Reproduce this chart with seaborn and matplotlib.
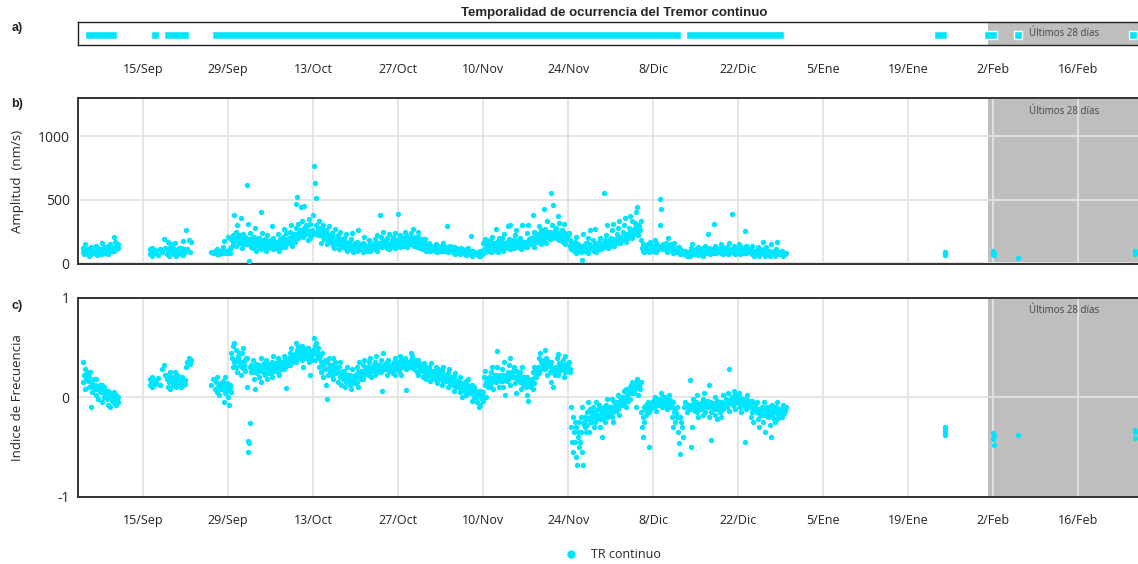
import numpy as np
import pandas as pd
import matplotlib
matplotlib.use("Agg")
import matplotlib.pyplot as plt
import matplotlib.dates as mdates
import matplotlib.transforms as mtransforms
from matplotlib.lines import Line2D
import seaborn as sns

# Episodes of continuous tremor (panel a)
episode_start = ["2023-09-05 10:00", "2023-09-16 07:00", "2023-09-18 12:00", "2023-09-26 10:00",
                 "2023-12-13 10:00", "2024-01-23 07:00", "2024-01-31 12:00", "2024-02-05 12:00",
                 "2024-02-24 10:00"]
episode_end = ["2023-09-10 17:00", "2023-09-17 14:00", "2023-09-22 14:00", "2023-12-12 14:00",
               "2023-12-29 14:00", "2024-01-25 10:00", "2024-02-02 17:00", "2024-02-06 19:00",
               "2024-02-25 17:00"]

# Daily readings (first day = 5 Sep 2023), amplitude in nm/s
first_day = "2023-09-05"
amp_sep = [
    [90, 120, 70, 150, 100, 80, 100, 110, 95], [110, 60, 95, 130, 75, 105, 90, 100, 85],
    [85, 140, 100, 65, 120, 90, 95, 105, 80], [70, 110, 160, 95, 80, 125, 100, 90, 110],
    [100, 75, 135, 90, 150, 115, 110, 95, 120], [120, 205, 95, 170, 140, 110, 130, 150, 120],
    [], [], [], [], [],
    [70, 110, 90, 120, 60, 100, 85, 95, 105], [95, 65, 115], [90, 190, 120, 70],
    [170, 100, 60, 130, 80, 150, 110, 90, 120], [75, 110, 160, 90, 60, 100, 90, 80, 120],
    [95, 70, 120, 85, 175, 65, 100, 90, 110], [260, 110, 180, 90, 170],
    [], [], [],
    [90, 80, 100], [95, 75, 110, 85, 100, 70, 85, 95, 90, 80],
    [80, 130, 90, 175, 100, 85, 95, 90, 100, 85],
    [210, 95, 110, 80, 190, 130, 180, 220, 150, 200],
    [380, 180, 250, 140, 300, 210, 190, 160, 220, 170],
]
amp_oct = [
    [160, 360, 200, 120, 230, 170, 180, 150, 210, 190], [620, 150, 310, 190, 20, 240, 170, 130, 160, 200],
    [180, 120, 210, 280, 150, 100, 160, 190, 140, 170], [200, 130, 170, 400, 110, 240, 150, 180, 160, 130],
    [140, 190, 100, 160, 220, 120, 150, 170, 130, 180], [150, 290, 180, 110, 200, 130, 160, 140, 170, 120],
    [120, 170, 230, 140, 100, 190, 150, 180, 130, 160], [210, 150, 270, 130, 180, 240, 170, 190, 160, 200],
    [190, 250, 160, 300, 220, 140, 200, 180, 230, 170], [230, 470, 280, 520, 200, 310, 250, 220, 260, 240],
    [440, 260, 330, 210, 450, 280, 240, 300, 230, 260], [290, 180, 350, 240, 310, 200, 220, 260, 250, 230],
    [380, 765, 240, 630, 300, 515, 250, 280, 220, 330], [330, 220, 280, 160, 250, 300, 210, 240, 190, 260],
    [200, 260, 150, 230, 180, 290, 190, 210, 170, 220], [180, 240, 140, 210, 120, 270, 160, 190, 170, 150],
    [160, 220, 110, 190, 250, 130, 150, 170, 140, 180], [140, 200, 120, 170, 230, 100, 130, 150, 160, 140],
    [150, 110, 190, 130, 240, 90, 120, 140, 160, 130], [120, 170, 100, 260, 140, 110, 130, 150, 120, 140],
    [130, 160, 90, 150, 210, 110, 120, 140, 130, 100], [110, 180, 130, 95, 160, 140, 120, 150, 140, 110],
    [140, 190, 120, 170, 100, 220, 150, 130, 160, 140], [380, 160, 210, 130, 250, 180, 150, 170, 140, 160],
    [170, 120, 200, 140, 230, 110, 150, 160, 130, 180], [150, 210, 130, 180, 120, 240, 160, 170, 140, 190],
    [390, 170, 220, 130, 190, 150, 160, 180, 170, 140], [200, 250, 160, 220, 130, 180, 170, 190, 150, 200],
    [240, 150, 200, 170, 270, 140, 180, 160, 210, 190], [180, 130, 210, 250, 150, 120, 160, 170, 140, 190],
    [150, 110, 170, 130, 190, 100, 140, 120, 150, 130],
]
amp_nov = [
    [120, 160, 100, 140, 110, 130, 120, 130, 115, 105], [130, 100, 150, 90, 120, 140, 110, 120, 100, 130],
    [110, 140, 95, 120, 160, 100, 105, 115, 125, 100], [290, 120, 90, 130, 100, 140, 110, 100, 120, 95],
    [100, 130, 85, 110, 75, 120, 95, 105, 90, 100], [90, 110, 70, 120, 85, 100, 90, 95, 80, 100],
    [80, 110, 65, 95, 120, 75, 85, 90, 80, 95], [215, 85, 60, 100, 70, 90, 75, 80, 70, 85],
    [70, 90, 55, 80, 100, 60, 65, 75, 70, 80], [160, 110, 190, 90, 130, 170, 140, 120, 150, 100],
    [120, 180, 90, 150, 210, 100, 130, 140, 160, 120], [140, 270, 110, 170, 90, 200, 150, 130, 160, 120],
    [130, 200, 100, 160, 230, 120, 140, 150, 170, 130], [290, 140, 190, 110, 300, 160, 150, 170, 130, 180],
    [180, 120, 220, 150, 260, 130, 160, 170, 140, 190], [150, 200, 110, 300, 170, 130, 140, 160, 170, 150],
    [170, 130, 240, 150, 300, 190, 160, 180, 150, 200], [200, 380, 160, 250, 130, 220, 180, 190, 170, 210],
    [230, 170, 290, 200, 150, 260, 200, 220, 180, 240], [425, 200, 270, 160, 330, 240, 220, 210, 250, 190],
    [250, 555, 190, 300, 460, 220, 230, 210, 260, 200], [280, 200, 370, 240, 320, 180, 230, 250, 210, 260],
    [260, 170, 310, 210, 150, 240, 200, 220, 190, 230], [220, 240, 140, 180, 160, 110, 130, 120, 150, 100],
    [120, 170, 80, 210, 100, 150, 130, 110, 140, 120], [140, 90, 25, 120, 230, 100, 130, 150, 110, 160],
    [160, 110, 200, 80, 150, 260, 120, 140, 130, 110], [130, 180, 100, 270, 150, 90, 120, 140, 110, 160],
    [170, 120, 200, 140, 110, 130, 150, 160, 140, 550], [180, 130, 220, 150, 300, 120, 150, 170, 140, 190],
]
amp_dec = [
    [200, 150, 260, 170, 310, 140, 170, 190, 180, 160], [230, 170, 280, 200, 330, 160, 190, 210, 200, 180],
    [250, 190, 300, 360, 220, 170, 210, 230, 200, 240], [280, 210, 370, 240, 330, 200, 240, 260, 230, 280],
    [320, 250, 400, 440, 300, 220, 270, 290, 260, 330], [180, 120, 150, 100, 130, 90, 120, 110, 140, 105],
    [110, 150, 90, 130, 170, 100, 120, 110, 130, 100], [140, 100, 180, 120, 90, 160, 120, 130, 110, 140],
    [300, 510, 130, 425, 110, 150, 120, 140, 110, 130], [120, 160, 90, 140, 200, 110, 120, 130, 110, 150],
    [100, 140, 80, 120, 160, 90, 110, 100, 120, 95], [90, 130, 70, 110, 100, 80, 95],
    [70, 100, 60, 80, 90], [90, 60, 120, 75, 150, 85, 80, 95, 70, 100],
    [110, 70, 95, 130, 65, 100, 85, 95, 80, 105], [80, 120, 60, 100, 90, 140, 90, 100, 80, 110],
    [230, 90, 120, 70, 110, 80, 95, 100, 85, 105], [310, 100, 140, 80, 120, 95, 100, 110, 90, 115],
    [110, 150, 85, 125, 70, 105, 95, 100, 90, 110], [90, 130, 70, 115, 160, 85, 100, 95, 110, 90],
    [390, 120, 80, 140, 100, 75, 100, 110, 90, 95], [110, 150, 90, 70, 130, 100, 105, 95, 110, 85],
    [255, 100, 140, 80, 115, 95, 100, 110, 90, 105], [85, 120, 70, 140, 95, 60, 90, 80, 100, 85],
    [100, 75, 130, 90, 60, 110, 85, 95, 80, 90], [170, 80, 110, 60, 95, 130, 85, 90, 75, 100],
    [75, 100, 55, 90, 150, 70, 80, 85, 70, 95], [90, 60, 110, 70, 165, 80, 80, 90, 75, 85],
    [70, 95, 55, 85, 75, 80],
]

# Daily frequency index, same layout as the amplitude lists
freq_sep = [
    [0.15, 0.35, 0.22, 0.08, 0.28, 0.18, 0.20, 0.25, 0.16], [0.20, 0.10, 0.25, -0.10, 0.15, 0.05, 0.12, 0.18, 0.08],
    [0.12, 0.02, 0.18, 0.08, -0.02, 0.10, 0.10, 0.06, 0.12], [0.05, 0.12, -0.05, 0.08, 0.00, 0.10, 0.04, 0.06, 0.02],
    [-0.02, 0.06, -0.08, 0.02, -0.10, 0.04, 0.00, -0.04, 0.03], [0.00, -0.06, 0.05, -0.03, -0.08, 0.02, -0.02, -0.05, 0.00],
    [], [], [], [], [],
    [0.12, 0.18, 0.15, 0.20, 0.10, 0.16, 0.14, 0.17, 0.13], [0.14, 0.19, 0.12], [0.28, 0.32, 0.22, 0.18],
    [0.10, 0.22, 0.15, 0.25, 0.08, 0.18, 0.16, 0.20, 0.12], [0.20, 0.12, 0.25, 0.16, 0.10, 0.22, 0.18, 0.14, 0.20],
    [0.14, 0.18, 0.10, 0.20, 0.12, 0.16, 0.15, 0.13, 0.17], [0.30, 0.36, 0.40, 0.33, 0.38],
    [], [], [],
    [0.12, 0.18, 0.08], [0.15, 0.05, 0.20, 0.10, 0.02, 0.13, 0.10, 0.14, 0.08, 0.12],
    [0.08, 0.16, -0.05, 0.12, 0.20, 0.04, 0.10, 0.06, 0.14, 0.09],
    [0.00, -0.08, 0.10, 0.12, 0.05, 0.45, 0.40, 0.30, 0.52, 0.36],
    [0.55, 0.38, 0.30, 0.48, 0.25, 0.42, 0.40, 0.35, 0.45, 0.32],
]
freq_oct = [
    [0.35, 0.22, 0.45, 0.30, 0.50, 0.28, 0.32, 0.38, 0.26, 0.40],
    [0.40, 0.10, -0.55, -0.44, -0.46, -0.26, 0.30, 0.25, 0.32, 0.28],
    [0.25, 0.38, 0.18, 0.30, 0.08, 0.33, 0.28, 0.24, 0.32, 0.26], [0.20, 0.32, 0.27, 0.40, 0.15, 0.28, 0.26, 0.30, 0.24, 0.34],
    [0.30, 0.22, 0.38, 0.18, 0.34, 0.26, 0.28, 0.24, 0.30, 0.32], [0.24, 0.35, 0.20, 0.42, 0.28, 0.32, 0.30, 0.26, 0.34, 0.28],
    [0.30, 0.40, 0.25, 0.36, 0.22, 0.34, 0.32, 0.28, 0.36, 0.30], [0.35, 0.28, 0.42, 0.30, 0.38, 0.09, 0.34, 0.38, 0.32, 0.40],
    [0.38, 0.45, 0.32, 0.50, 0.40, 0.35, 0.40, 0.42, 0.38, 0.44], [0.42, 0.55, 0.36, 0.48, 0.52, 0.40, 0.44, 0.46, 0.42, 0.50],
    [0.45, 0.38, 0.52, 0.30, 0.48, 0.42, 0.44, 0.40, 0.46, 0.50], [0.40, 0.50, 0.35, 0.46, 0.22, 0.42, 0.42, 0.44, 0.38, 0.48],
    [0.48, 0.60, 0.38, 0.52, 0.44, 0.55, 0.46, 0.50, 0.42, 0.40], [0.30, 0.42, 0.25, 0.36, 0.45, 0.20, 0.32, 0.34, 0.28, 0.38],
    [0.28, 0.12, 0.35, -0.02, 0.22, 0.40, 0.30, 0.26, 0.32, 0.24], [0.32, 0.22, 0.40, 0.18, 0.28, 0.35, 0.28, 0.30, 0.24, 0.26],
    [0.25, 0.15, 0.30, 0.20, 0.35, 0.12, 0.22, 0.24, 0.18, 0.26], [0.18, 0.26, 0.10, 0.22, 0.15, 0.30, 0.20, 0.18, 0.22, 0.16],
    [0.12, 0.22, 0.08, 0.18, 0.28, 0.15, 0.16, 0.20, 0.14, 0.22], [0.20, 0.30, 0.15, 0.25, 0.10, 0.35, 0.22, 0.24, 0.18, 0.26],
    [0.25, 0.32, 0.18, 0.38, 0.22, 0.28, 0.26, 0.28, 0.24, 0.30], [0.30, 0.22, 0.36, 0.26, 0.40, 0.20, 0.28, 0.30, 0.26, 0.32],
    [0.28, 0.35, 0.22, 0.42, 0.30, 0.25, 0.30, 0.28, 0.32, 0.26], [0.32, 0.25, 0.38, 0.06, 0.30, 0.45, 0.30, 0.32, 0.28, 0.34],
    [0.28, 0.34, 0.22, 0.38, 0.26, 0.31, 0.30, 0.28, 0.32, 0.26], [0.30, 0.24, 0.36, 0.28, 0.40, 0.22, 0.30, 0.32, 0.28, 0.34],
    [0.35, 0.26, 0.42, 0.30, 0.22, 0.38, 0.32, 0.34, 0.30, 0.36], [0.32, 0.40, 0.28, 0.07, 0.36, 0.30, 0.34, 0.32, 0.36, 0.30],
    [0.38, 0.45, 0.30, 0.42, 0.35, 0.28, 0.36, 0.34, 0.38, 0.32], [0.32, 0.25, 0.38, 0.22, 0.34, 0.28, 0.30, 0.28, 0.32, 0.26],
    [0.28, 0.20, 0.34, 0.24, 0.30, 0.18, 0.26, 0.24, 0.28, 0.22],
]
freq_nov = [
    [0.22, 0.30, 0.16, 0.26, 0.34, 0.20, 0.24, 0.22, 0.26, 0.20], [0.25, 0.18, 0.30, 0.14, 0.22, 0.28, 0.22, 0.20, 0.24, 0.18],
    [0.20, 0.12, 0.26, 0.30, 0.16, 0.22, 0.20, 0.18, 0.22, 0.16], [0.18, 0.24, 0.10, 0.20, 0.28, 0.14, 0.18, 0.16, 0.20, 0.14],
    [0.12, 0.20, 0.06, 0.16, 0.24, 0.10, 0.14, 0.12, 0.16, 0.10], [0.15, 0.05, 0.20, 0.10, 0.00, 0.14, 0.10, 0.12, 0.08, 0.06],
    [0.08, 0.16, 0.02, 0.12, 0.18, 0.05, 0.08, 0.10, 0.06, 0.04], [0.04, 0.12, -0.04, 0.08, 0.00, 0.10, 0.04, 0.06, 0.02, 0.00],
    [-0.05, 0.05, -0.10, 0.02, -0.08, 0.06, 0.00, -0.02, 0.02, -0.04], [0.05, 0.20, 0.12, 0.26, 0.00, 0.15, 0.14, 0.18, 0.10, 0.20],
    [0.18, 0.10, 0.25, 0.14, 0.30, 0.08, 0.18, 0.20, 0.16, 0.22], [0.22, 0.15, 0.30, 0.47, 0.20, 0.10, 0.20, 0.18, 0.22, 0.16],
    [0.16, 0.28, 0.10, 0.22, 0.35, 0.02, 0.18, 0.20, 0.16, 0.22], [0.25, 0.18, 0.32, 0.12, 0.40, 0.20, 0.22, 0.24, 0.20, 0.26],
    [0.20, 0.30, 0.14, 0.04, 0.26, 0.18, 0.20, 0.22, 0.18, 0.24], [0.15, 0.25, 0.08, 0.20, 0.30, 0.12, 0.18, 0.20, 0.16, 0.14],
    [0.10, 0.20, 0.02, 0.16, -0.04, 0.12, 0.12, 0.14, 0.10, 0.16], [0.18, 0.08, 0.25, 0.14, 0.30, 0.20, 0.20, 0.22, 0.26, 0.28],
    [0.30, 0.40, 0.24, 0.45, 0.35, 0.28, 0.34, 0.36, 0.32, 0.38], [0.35, 0.48, 0.28, 0.40, 0.22, 0.38, 0.34, 0.32, 0.36, 0.30],
    [0.25, 0.35, 0.15, 0.30, 0.10, 0.28, 0.24, 0.26, 0.22, 0.28], [0.30, 0.40, 0.22, 0.44, 0.34, 0.26, 0.30, 0.32, 0.28, 0.34],
    [0.28, 0.38, 0.20, 0.32, 0.42, 0.25, 0.30, 0.32, 0.28, 0.34], [0.30, 0.36, 0.25, 0.28, -0.10, -0.30, -0.45, -0.20, -0.55, -0.35],
    [-0.25, -0.45, -0.60, -0.30, -0.68, -0.40, -0.35, -0.50, -0.25, -0.45], [-0.20, -0.35, -0.55, -0.10, -0.68, -0.28, -0.25, -0.30, -0.20, -0.35],
    [-0.15, -0.28, -0.05, -0.22, -0.35, -0.12, -0.20, -0.25, -0.15, -0.18], [-0.20, -0.10, -0.30, -0.15, -0.25, -0.05, -0.18, -0.22, -0.12, -0.20],
    [-0.18, -0.08, -0.30, -0.12, -0.22, -0.40, -0.15, -0.20, -0.10, -0.18], [-0.15, -0.25, -0.08, -0.20, -0.02, -0.12, -0.12, -0.18, -0.10, -0.15],
]
freq_dec = [
    [-0.10, -0.20, -0.02, -0.15, -0.25, -0.05, -0.10, -0.12, -0.08, -0.14], [-0.05, -0.12, 0.02, -0.08, -0.18, 0.00, -0.06, -0.04, -0.08, -0.02],
    [0.00, -0.06, 0.06, -0.02, 0.08, -0.10, 0.00, 0.02, -0.04, 0.04], [0.05, 0.10, -0.02, 0.12, 0.04, 0.15, 0.06, 0.08, 0.04, 0.10],
    [0.08, 0.14, -0.10, 0.18, 0.02, 0.12, 0.10, 0.12, 0.08, 0.15], [-0.15, -0.30, -0.20, -0.40, -0.10, -0.25, -0.12, -0.18, -0.08, -0.14],
    [-0.10, -0.05, -0.15, -0.50, -0.08, -0.12, -0.08, -0.06, -0.10, -0.04], [-0.05, -0.10, 0.00, -0.08, -0.14, -0.02, -0.06, -0.04, -0.08, -0.02],
    [-0.02, -0.08, 0.04, -0.05, -0.10, 0.00, -0.04, -0.06, -0.02, -0.08], [-0.06, 0.00, -0.12, -0.04, -0.08, 0.02, -0.05, -0.03, -0.07, -0.10],
    [-0.10, -0.20, -0.05, -0.30, -0.15, -0.25, -0.12, -0.16, -0.10, -0.20], [-0.35, -0.46, -0.20, -0.57, -0.25, -0.30, -0.40],
    [-0.10, -0.05, -0.15, -0.08, -0.12], [-0.08, 0.17, -0.50, -0.12, -0.30, -0.02, -0.10, -0.06, -0.14, -0.08],
    [-0.05, -0.15, 0.02, -0.10, -0.20, -0.08, -0.08, -0.12, -0.06, -0.10], [-0.12, -0.02, -0.18, -0.08, 0.04, -0.15, -0.08, -0.06, -0.10, -0.04],
    [-0.10, 0.12, -0.20, -0.05, -0.15, -0.43, -0.08, -0.10, -0.06, -0.12], [-0.08, -0.18, 0.00, -0.12, -0.04, -0.22, -0.10, -0.08, -0.06, -0.12],
    [-0.15, -0.05, -0.20, -0.10, 0.02, -0.12, -0.08, -0.06, -0.10, -0.04], [-0.02, -0.10, 0.04, -0.06, 0.28, -0.14, -0.04, -0.02, -0.06, 0.00],
    [0.00, -0.08, 0.06, -0.04, -0.12, 0.02, -0.02, -0.04, 0.00, -0.06], [-0.05, 0.04, -0.10, 0.00, -0.15, -0.02, -0.04, -0.06, -0.02, -0.08],
    [-0.08, -0.45, -0.02, -0.12, 0.02, -0.06, -0.06, -0.08, -0.04, -0.10], [-0.10, -0.20, -0.04, -0.15, -0.25, -0.08, -0.10, -0.12, -0.08, -0.14],
    [-0.15, -0.05, -0.22, -0.12, -0.30, -0.18, -0.15, -0.12, -0.18, -0.10], [-0.12, -0.25, -0.05, -0.35, -0.18, -0.10, -0.15, -0.18, -0.12, -0.20],
    [-0.20, -0.10, -0.28, -0.15, -0.40, -0.08, -0.18, -0.15, -0.22, -0.12], [-0.15, -0.25, -0.10, -0.22, -0.05, -0.18, -0.16, -0.12, -0.20, -0.14],
    [-0.12, -0.20, -0.08, -0.16, -0.14, -0.10],
]

# Short isolated episodes (Jan/Feb)
extra_time = ["2024-01-25 00:00", "2024-01-25 01:00", "2024-01-25 02:00", "2024-01-25 03:00",
              "2024-02-02 00:00", "2024-02-02 01:00", "2024-02-02 02:00", "2024-02-02 03:00",
              "2024-02-06 03:00",
              "2024-02-25 07:00", "2024-02-25 08:00", "2024-02-25 09:00"]
extra_amp = [65, 85, 75, 90, 70, 95, 80, 65, 40, 75, 100, 85]
extra_freq = [-0.30, -0.38, -0.33, -0.36, -0.36, -0.42, -0.48, -0.39, -0.38, -0.33, -0.41, -0.35]

tick_dates = pd.date_range("2023-09-15", periods=12, freq="14D")
tick_labels = ["15/Sep", "29/Sep", "13/Oct", "27/Oct", "10/Nov", "24/Nov",
               "8/Dic", "22/Dic", "5/Ene", "19/Ene", "2/Feb", "16/Feb"]

x_min = pd.Timestamp("2023-09-04 06:30")
x_max = pd.Timestamp("2024-02-26 05:30")
last28_start = pd.Timestamp("2024-02-01 02:00")

cyan = "#00E5FF"
shade = "#BEBEBE"

# build the long table
rows = []
day0 = pd.Timestamp(first_day)
amp_days = amp_sep + amp_oct + amp_nov + amp_dec
freq_days = freq_sep + freq_oct + freq_nov + freq_dec
for i, (a_list, f_list) in enumerate(zip(amp_days, freq_days)):
    n = len(a_list)
    for k, (a, f) in enumerate(zip(a_list, f_list)):
        t = day0 + pd.Timedelta(days=i + (k + 0.5) / n)
        rows.append((t, a, f))
for t, a, f in zip(extra_time, extra_amp, extra_freq):
    rows.append((pd.Timestamp(t), a, f))
df = pd.DataFrame(rows, columns=["time", "amp", "freq"])

sns.set_style("white")
plt.rcParams["font.family"] = ["Open Sans", "DejaVu Sans"]
plt.rcParams["axes.unicode_minus"] = False

fig = plt.figure(figsize=(11.38, 5.64), dpi=100)
L, W = 0.0685, 0.9335
ax_a = fig.add_axes([L, 0.920, W, 0.041])
ax_b = fig.add_axes([L, 0.532, W, 0.294])
ax_c = fig.add_axes([L, 0.119, W, 0.353])

# panel a
starts = mdates.date2num(pd.to_datetime(episode_start))
ends = mdates.date2num(pd.to_datetime(episode_end))
ax_a.axvspan(last28_start, x_max, color=shade, lw=0, zorder=0)
ax_a.barh(0.45, ends - starts, left=starts, height=0.34, color=cyan, zorder=2)
ax_a.set_ylim(0, 1)
ax_a.set_yticks([])
for s in ax_a.spines.values():
    s.set_color("#222222")
    s.set_linewidth(1.0)

# panels b and c
sns.scatterplot(data=df, x="time", y="amp", ax=ax_b, color=cyan, s=15, linewidth=0,
                legend=False, zorder=3)
sns.scatterplot(data=df, x="time", y="freq", ax=ax_c, color=cyan, s=15, linewidth=0,
                legend=False, zorder=3)

for ax in (ax_b, ax_c):
    ax.axvspan(last28_start, x_max, color=shade, lw=0, zorder=0)
    ax.grid(True, color="#E3E3E3", lw=1.3, zorder=1)
    for name, s in ax.spines.items():
        s.set_color("#333333")
        s.set_linewidth(1.4)
    ax.spines["right"].set_visible(False)
    ax.set_xlabel("")
    ax.tick_params(axis="y", length=0, pad=6, labelsize=10)

ax_b.set_ylim(-5, 1300)
ax_b.set_yticks([0, 500, 1000])
ax_b.set_ylabel("Amplitud  (nm/s)", fontsize=9.5, labelpad=10)
ax_c.set_ylim(-1, 1)
ax_c.set_yticks([-1, 0, 1])
ax_c.set_ylabel("Indice de Frecuencia", fontsize=9.5, labelpad=24)

for ax in (ax_a, ax_b, ax_c):
    ax.set_xlim(x_min, x_max)
    ax.set_xticks(tick_dates)
    ax.set_xticklabels(tick_labels)
    ax.tick_params(axis="x", direction="out", length=7, width=1, color="#333333",
                   labelsize=9, labelcolor="#222222", pad=6)
ax_b.tick_params(axis="x", length=0, labelbottom=False)
ax_c.tick_params(axis="x", length=6)

# "Últimos 28 días" labels
mid = last28_start + (x_max - last28_start) / 2
for ax, yy in ((ax_a, 0.5), (ax_b, 0.92), (ax_c, 0.935)):
    tr = mtransforms.blended_transform_factory(ax.transData, ax.transAxes)
    ax.text(mid, yy, "Últimos 28 días", transform=tr, ha="center", va="center",
            fontsize=7, color="#444444", zorder=4)

# title and panel letters
fig.text(0.54, 0.977, "Temporalidad de ocurrencia del Tremor continuo", ha="center",
         va="center", fontsize=9.5, fontweight="bold", family="Liberation Sans")
for lab, yy in (("a)", 0.950), ("b)", 0.815), ("c)", 0.458)):
    fig.text(0.010, yy, lab, ha="left", va="center", fontsize=9, fontweight="bold",
             family="Liberation Sans", color="#222222")

handle = Line2D([], [], marker="o", ls="", color=cyan, markersize=5)
fig.legend([handle], ["TR continuo"], loc="center", bbox_to_anchor=(0.536, 0.017),
           frameon=False, fontsize=9, handletextpad=0.6)

fig.savefig("out.png", dpi=100)
